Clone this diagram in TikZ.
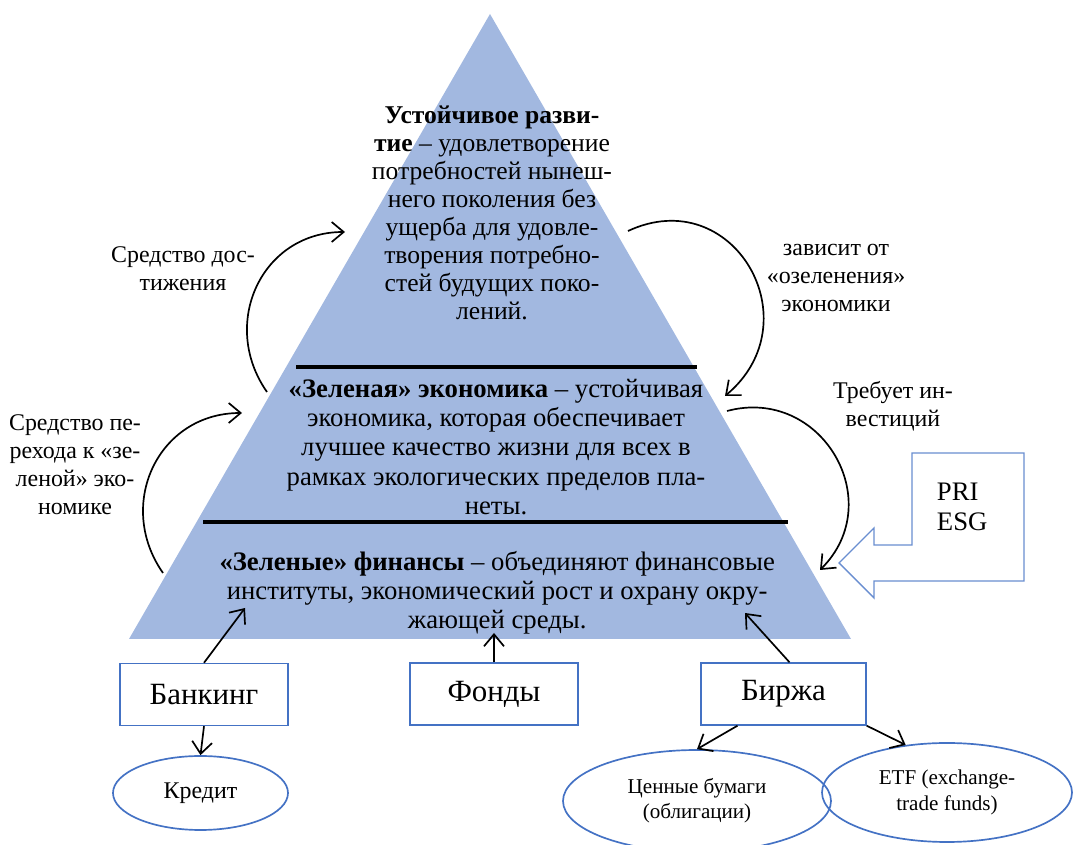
\documentclass[tikz,border=0pt]{standalone}
\usepackage{fontspec}
\setmainfont{Liberation Serif}
\usepackage{xcolor}
\usepackage{tikz}
\usetikzlibrary{positioning,shapes.geometric,arrows.meta}
\definecolor{pyrblue}{RGB}{162,184,224}
\definecolor{lineblue}{RGB}{68,114,196}
\newcommand{\pyrfont}{\fontsize{19}{20.8}\selectfont}
\newcommand{\lblfont}{\fontsize{17}{20}\selectfont}

\begin{document}
\begin{tikzpicture}[>={Straight Barb[length=3mm,width=5mm]},
                    box/.style={draw=lineblue,line width=1pt,minimum width=4.2cm,minimum height=1.55cm,font=\fontsize{22}{24}\selectfont},
                    oval/.style={draw=lineblue,line width=1.2pt,ellipse,inner sep=0pt,align=center,font=\fontsize{15}{18}\selectfont},
                    lbl/.style={align=center,font=\lblfont},
                    pyrtext/.style={align=center,font=\pyrfont},
                    conn/.style={->,line width=1.2pt}]
  \useasboundingbox (0,0) rectangle (26.975,21.125);
  % pyramid
  \fill[pyrblue] (12.25,20.775) -- (21.275,5.15) -- (3.225,5.15) -- cycle;
  \draw[line width=2.8pt] (7.4,11.95) -- (17.425,11.95);
  \draw[line width=2.8pt] (5.075,8.075) -- (19.7,8.075);
  % pyramid texts
  \node[pyrtext,font=\fontsize{18.2}{19.9}\selectfont] (dev) at (12.3,15.8)
    {\textbf{Устойчивое разви-}\\\textbf{тие} – удовлетворение\\потребностей нынеш-\\него поколения без\\ущерба для удовле-\\творения потребно-\\стей будущих поко-\\лений.};
  \node[pyrtext] (econ) at (12.4,9.95)
    {\textbf{«Зеленая» экономика} – устойчивая\\экономика, которая обеспечивает\\лучшее качество жизни для всех в\\рамках экологических пределов пла-\\неты.};
  \node[pyrtext] (fin) at (12.43,6.3)
    {\textbf{«Зеленые» финансы} – объединяют финансовые\\институты, экономический рост и охрану окру-\\жающей среды.};
  % side labels
  \node[lbl] (means1) at (4.575,14.4) {Средство дос-\\тижения};
  \node[lbl] (means2) at (1.875,9.5) {Средство пе-\\рехода к «зе-\\леной» эко-\\номике};
  \node[lbl] (depends) at (20.9,14.175) {зависит от\\«озеленения»\\экономики};
  \node[lbl] (invest) at (22.325,10.975) {Требует ин-\\вестиций};
  % PRI / ESG callout
  \draw[draw=lineblue!80,line width=1pt] (25.6,9.8) -- (22.8,9.8) -- (22.8,7.5) -- (21.85,7.5)
    -- (21.85,7.925) -- (20.975,7.05) -- (21.85,6.175) -- (21.85,6.6) -- (25.6,6.6) -- cycle;
  \node[align=left,anchor=west,font=\fontsize{19}{21.5}\selectfont] (pri) at (23.3,8.45) {PRI\\ESG};
  % bottom boxes
  \node[box] (bank) at (5.1,3.7625) {Банкинг};
  \node[box] (funds) at (12.35,3.775) {Фонды};
  \node[box,minimum width=4.125cm] (exch) at (19.5875,3.775) {Биржа};
  \node[oval,minimum width=4.375cm,minimum height=1.85cm,font=\fontsize{17}{19}\selectfont] (credit) at (5.0125,1.3) {Кредит};
  \node[oval,minimum width=6.7cm,minimum height=2.55cm] (bonds) at (17.425,1.1) {Ценные бумаги\\(облигации)};
  \node[oval,minimum width=6.25cm,minimum height=2.475cm] (etf) at (23.675,1.3125) {ETF (exchange-\\trade funds)};
  % arrow ends
  \coordinate (pbank) at (6.125,5.925);
  \coordinate (pfund) at (12.35,5.3);
  \coordinate (pexch) at (18.625,5.8);
  \coordinate (lu1) at (6.675,11.325);
  \coordinate (lu2) at (8.625,15.325);
  \coordinate (ll1) at (4.075,6.8);
  \coordinate (ll2) at (6.05,10.8);
  \coordinate (ru1) at (15.7,15.35);
  \coordinate (ru2) at (18.125,11.225);
  \coordinate (rl1) at (18.175,10.85);
  \coordinate (rl2) at (20.5,6.875);
  % connectors
  \draw[conn] (bank.north) -- (pbank);
  \draw[conn] (bank.south) -- (credit.north);
  \draw[conn] (funds.north) -- (pfund);
  \draw[conn] ([xshift=0.15cm]exch.north) -- (pexch);
  \draw[conn] ([xshift=-1.15cm]exch.south) -- (bonds.north);
  \draw[conn] (exch.south east) -- (etf.131);
  % curved arrows
  \draw[conn] (lu1) to[out=125,in=180,looseness=1.2] (lu2);
  \draw[conn] (ll1) to[out=125,in=180,looseness=1.2] (ll2);
  \draw[conn] (ru1) to[out=25,in=40,looseness=1.55] (ru2);
  \draw[conn] (rl1) to[out=15,in=45,looseness=1.35] (rl2);
\end{tikzpicture}
\end{document}
